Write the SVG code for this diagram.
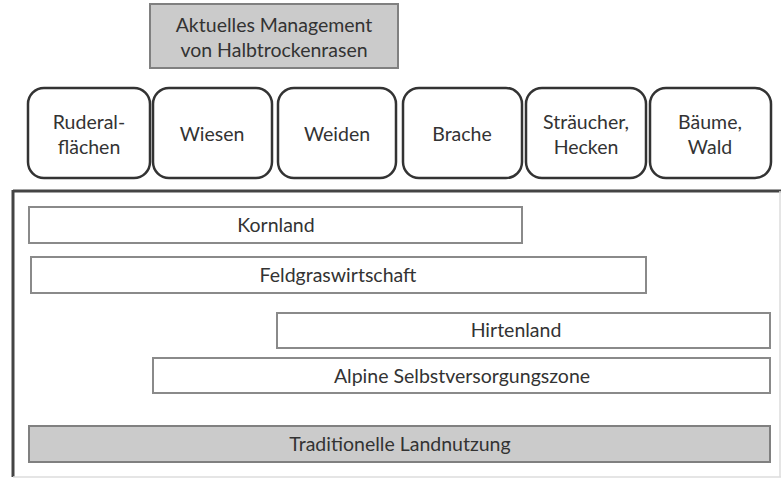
<svg xmlns="http://www.w3.org/2000/svg" width="781" height="479" viewBox="0 0 781 479">
<style>
text{font-family:Lato,"Open Sans","Liberation Sans",sans-serif;font-size:19.5px;fill:#333;text-anchor:middle}
.gray{fill:#cbcbcb;stroke:#808080;stroke-width:2}
.bar{fill:#fff;stroke:#8a8a8a;stroke-width:2}
.rb{fill:#fff;stroke:#333;stroke-width:2.5}
</style>
<rect width="781" height="479" fill="#fff"/>
<g id="frame">
<line x1="13" y1="191" x2="781" y2="191" stroke="#444" stroke-width="3"/>
<line x1="13" y1="190" x2="13" y2="477" stroke="#444" stroke-width="3"/>
<line x1="13" y1="477" x2="781" y2="477" stroke="#ddd" stroke-width="1.5"/>
<line x1="780" y1="191" x2="780" y2="477" stroke="#ddd" stroke-width="1.5"/>
</g>
<g id="management">
<rect class="gray" x="150" y="4" width="248" height="64"/>
<text x="274" y="32">Aktuelles Management</text>
<text x="274" y="57">von Halbtrockenrasen</text>
</g>
<g id="ruderal"><rect class="rb" x="28" y="88" width="122" height="90" rx="16"/><text x="89" y="129">Ruderal-</text><text x="89" y="154">flächen</text></g>
<g id="wiesen"><rect class="rb" x="153" y="88" width="119" height="90" rx="16"/><text x="212" y="141">Wiesen</text></g>
<g id="weiden"><rect class="rb" x="278" y="88" width="118" height="90" rx="16"/><text x="337" y="141">Weiden</text></g>
<g id="brache"><rect class="rb" x="403" y="88" width="119" height="90" rx="16"/><text x="462" y="141">Brache</text></g>
<g id="straeucher"><rect class="rb" x="526" y="88" width="120" height="90" rx="16"/><text x="586" y="129">Sträucher,</text><text x="586" y="154">Hecken</text></g>
<g id="baeume"><rect class="rb" x="650" y="88" width="121" height="90" rx="16"/><text x="710" y="129">Bäume,</text><text x="710" y="154">Wald</text></g>
<g id="kornland"><rect class="bar" x="29" y="207" width="493" height="36"/><text x="276" y="232">Kornland</text></g>
<g id="feldgras"><rect class="bar" x="31" y="257" width="615" height="36"/><text x="338" y="282">Feldgraswirtschaft</text></g>
<g id="hirtenland"><rect class="bar" x="277" y="313" width="493" height="35"/><text x="516" y="337">Hirtenland</text></g>
<g id="alpine"><rect class="bar" x="153" y="358" width="617" height="35"/><text x="462" y="383">Alpine Selbstversorgungszone</text></g>
<g id="traditionelle"><rect class="gray" x="29" y="426" width="741" height="36"/><text x="400" y="451">Traditionelle Landnutzung</text></g>
<g id="connectors"/>
</svg>
